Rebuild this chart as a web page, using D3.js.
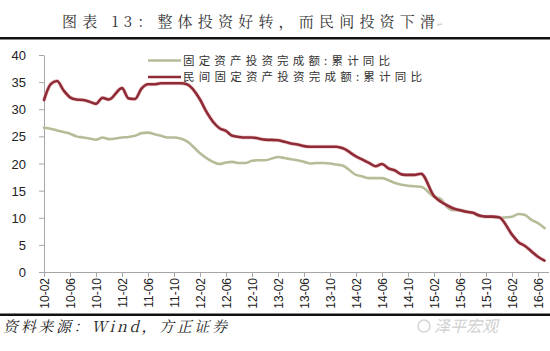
<!DOCTYPE html>
<html><head>
<meta charset="utf-8">
<script src="https://d3js.org/d3.v7.min.js"></script>
<style>
  body { margin: 0; background: #fff; }
  svg { display: block; }
  .axis text { font-family: "Liberation Sans", Arial, sans-serif; fill: #222; }
  .axis line, .axis path { stroke: #a6a6a6; }
</style>
</head>
<body>
<svg id="chart" width="550" height="351"></svg>
<script>

  // months with data (Wind has no January figure for cumulative FAI)
  const months = [
    "10-02","10-03","10-04","10-05","10-06","10-07","10-08","10-09","10-10","10-11","10-12",
    "11-02","11-03","11-04","11-05","11-06","11-07","11-08","11-09","11-10","11-11","11-12",
    "12-02","12-03","12-04","12-05","12-06","12-07","12-08","12-09","12-10","12-11","12-12",
    "13-02","13-03","13-04","13-05","13-06","13-07","13-08","13-09","13-10","13-11","13-12",
    "14-02","14-03","14-04","14-05","14-06","14-07","14-08","14-09","14-10","14-11","14-12",
    "15-02","15-03","15-04","15-05","15-06","15-07","15-08","15-09","15-10","15-11","15-12",
    "16-02","16-03","16-04","16-05","16-06","16-07"
  ];

  // 固定资产投资完成额:累计同比
  const totalFAI = [
    26.6, 26.4, 26.1, 25.8, 25.5, 25.0, 24.8, 24.6, 24.4, 24.8, 24.5,
    24.8, 24.9, 25.1, 25.6, 25.7, 25.4, 25.1, 24.8, 24.8, 24.6, 24.1,
    21.9, 21.0, 20.3, 19.9, 20.2, 20.3, 20.1, 20.1, 20.5, 20.6, 20.6,
    21.2, 21.0, 20.8, 20.6, 20.3, 20.0, 20.1, 20.1, 20.0, 19.8, 19.6,
    17.9, 17.6, 17.3, 17.3, 17.3, 16.9, 16.4, 16.1, 15.9, 15.8, 15.7,
    13.9, 13.5, 12.0, 11.4, 11.4, 11.2, 10.9, 10.3, 10.2, 10.2, 10.0,
    10.2, 10.7, 10.5, 9.6, 9.0, 8.1
  ];

  // 民间固定资产投资完成额:累计同比
  const privateFAI = [
    31.7, 34.6, 35.2, 33.5, 32.2, 31.8, 31.7, 31.4, 31.0, 32.1, 31.8,
    33.9, 32.0, 31.9, 33.8, 34.6, 34.6, 34.8, 34.8, 34.8, 34.8, 34.6,
    31.8, 29.5, 27.7, 26.5, 26.0, 25.1, 24.9, 24.8, 24.8, 24.6, 24.4,
    24.3, 24.0, 23.7, 23.5, 23.2, 23.1, 23.1, 23.1, 23.1, 23.1, 22.8,
    21.3, 20.7, 20.1, 19.5, 19.9, 19.1, 18.7, 18.0, 17.9, 17.9, 18.1,
    14.0, 13.0, 12.3, 11.7, 11.4, 11.1, 10.9, 10.4, 10.2, 10.2, 10.1,
    6.9, 5.5, 4.8, 3.8, 2.8, 2.1
  ];

  const tickLabels = ["10-02","10-06","10-10","11-02","11-06","11-10","12-02","12-06","12-10",
    "13-02","13-06","13-10","14-02","14-06","14-10","15-02","15-06","15-10","16-02","16-06"];
  const yTicks = [0, 5, 10, 15, 20, 25, 30, 35, 40];

  const seriesNames = ["固定资产投资完成额:累计同比", "民间固定资产投资完成额:累计同比"];
  const seriesColors = ["#b5bd98", "#8e2b36"];

  const svg = d3.select("#chart");

  // month index counted from 2010-02
  const monthIndex = s => (+s.slice(0, 2) - 10) * 12 + (+s.slice(3, 5) - 2);

  const x = d3.scaleLinear().domain([0, 77]).range([44, 544.5]);
  const y = d3.scaleLinear().domain([0, 40]).range([272, 55]);

  // title and rules
  svg.append("text")
    .attr("x", 62).attr("y", 27)
    .attr("textLength", 373).attr("lengthAdjust", "spacing")
    .style("font-family", "'Noto Serif CJK SC', 'Noto Sans CJK SC', serif")
    .style("font-size", "15px").style("fill", "#333")
    .text("图表 13：整体投资好转，而民间投资下滑");
  svg.append("text").attr("x", 437).attr("y", 27)
    .style("font-size", "7px").style("fill", "#bbb").text("↵");

  svg.append("rect").attr("x", 0).attr("y", 37).attr("width", 550).attr("height", 2.5).attr("fill", "#111");
  svg.append("rect").attr("x", 0).attr("y", 313.5).attr("width", 550).attr("height", 2.5).attr("fill", "#111");

  // y axis
  const yAxis = svg.append("g").attr("class", "axis")
    .attr("transform", "translate(44,0)")
    .call(d3.axisLeft(y).tickValues(yTicks).tickSize(5).tickPadding(13).tickSizeOuter(0));
  yAxis.selectAll("text").style("font-size", "13px").attr("dy", "0.35em");

  // x axis
  const xAxis = svg.append("g").attr("class", "axis")
    .attr("transform", "translate(0,272)")
    .call(d3.axisBottom(x)
      .tickValues(tickLabels.map(monthIndex))
      .tickFormat((d, i) => tickLabels[i])
      .tickSize(5).tickSizeOuter(0));
  xAxis.select(".domain").attr("d", "M44,0.5H549");
  xAxis.selectAll("text")
    .style("font-size", "12px")
    .attr("text-anchor", "end")
    .attr("transform", "rotate(-90)")
    .attr("x", -6).attr("y", 0).attr("dy", "0.35em");

  // lines
  const line = vals => d3.line()
    .x((d, i) => x(monthIndex(months[i])))
    .y(d => y(d))
    .curve(d3.curveMonotoneX)(vals);

  [totalFAI, privateFAI].forEach((vals, k) => {
    if (k === 1) {
      svg.append("path").attr("d", line(vals)).attr("fill", "none")
        .attr("stroke", "#e8a3a8").attr("stroke-width", 4).attr("stroke-opacity", 0.5);
    }
    svg.append("path").attr("d", line(vals)).attr("fill", "none")
      .attr("stroke", seriesColors[k]).attr("stroke-width", 2.6)
      .attr("stroke-linejoin", "round").attr("stroke-linecap", "round");
  });

  // legend
  const legendW = [207, 239];
  seriesNames.forEach((name, k) => {
    const ly = 60.5 + k * 16.5;
    svg.append("line").attr("x1", 148).attr("x2", 181).attr("y1", ly).attr("y2", ly)
      .attr("stroke", seriesColors[k]).attr("stroke-width", 2.6);
    svg.append("text").attr("x", 183).attr("y", ly).attr("dy", "0.36em")
      .attr("textLength", legendW[k]).attr("lengthAdjust", "spacing")
      .style("font-family", "'Noto Sans CJK SC', sans-serif")
      .style("font-size", "11.5px").style("fill", "#333")
      .text(name);
  });

  // source note and watermark
  svg.append("text").attr("x", 3).attr("y", 332)
    .attr("textLength", 224).attr("lengthAdjust", "spacing")
    .style("font-family", "'Noto Serif CJK SC', 'Liberation Serif', serif")
    .style("font-style", "italic").style("font-size", "15px").style("fill", "#222")
    .text("资料来源：Wind，方正证券");

  svg.append("circle").attr("cx", 424).attr("cy", 326).attr("r", 6)
    .attr("fill", "none").attr("stroke", "#d4d4d4").attr("stroke-width", 1.5);
  svg.append("text").attr("x", 434).attr("y", 332)
    .style("font-family", "'Noto Sans CJK SC', sans-serif")
    .style("font-style", "italic")
    .style("font-size", "16px").style("fill", "#d0d0d0")
    .text("泽平宏观");

</script>
</body>
</html>
